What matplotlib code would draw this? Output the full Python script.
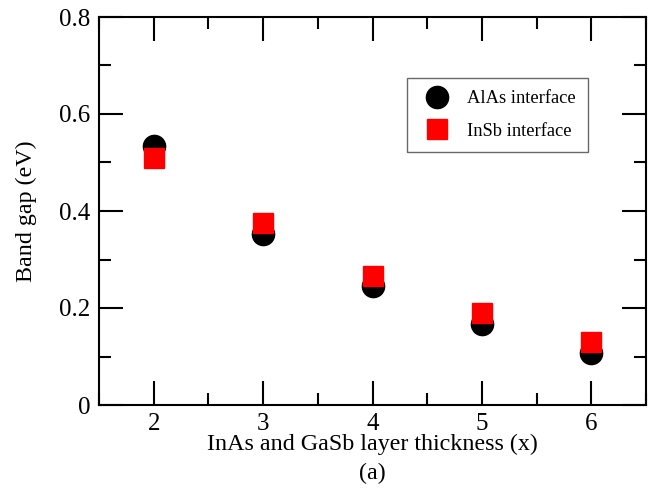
import matplotlib
matplotlib.use("Agg")
import matplotlib.pyplot as plt
from matplotlib.ticker import MultipleLocator

plt.rcParams['font.family'] = ['Liberation Serif', 'DejaVu Serif']

thickness = [2, 3, 4, 5, 6]
alas_gap = [0.533, 0.353, 0.246, 0.167, 0.108]
insb_gap = [0.510, 0.375, 0.267, 0.190, 0.129]

fig = plt.figure(figsize=(6.54, 4.88), dpi=100)
ax = fig.add_axes([99/654, 1-405/488, (646-99)/654, (405-17)/488])

ax.plot(thickness, alas_gap, 'o', color='black', markersize=16, linestyle='none', label='AlAs interface')
ax.plot(thickness, insb_gap, 's', color='#ff0000', markersize=14.4, linestyle='none', label='InSb interface')

ax.set_xlim(1.5, 6.5)
ax.set_ylim(0, 0.8)
ax.xaxis.set_major_locator(MultipleLocator(1))
ax.xaxis.set_minor_locator(MultipleLocator(0.5))
ax.set_yticks([0, 0.2, 0.4, 0.6, 0.8])
ax.set_yticklabels(['0', '0.2', '0.4', '0.6', '0.8'])
ax.yaxis.set_minor_locator(MultipleLocator(0.1))

ax.tick_params(which='both', direction='in', top=True, right=True, width=1.5, labelsize=18)
ax.tick_params(which='major', length=17, pad=6)
ax.tick_params(which='minor', length=8.6)
for s in ax.spines.values():
    s.set_linewidth(1.5)

ax.set_xlabel('InAs and GaSb layer thickness (x)\n(a)', fontsize=17.3, labelpad=-1, linespacing=1.45)
ax.set_ylabel('Band gap (eV)', fontsize=17.3, labelpad=16)

leg = ax.legend(loc='upper left', bbox_to_anchor=((407-99)/547, 1-(78-17)/388), frameon=True,
                fancybox=False, edgecolor='#444444', fontsize=13.3, borderpad=0.65,
                handletextpad=0.6, labelspacing=0.85, borderaxespad=0, markerscale=1.0)
leg.get_frame().set_linewidth(1.0)

fig.savefig('out.png', dpi=100)
